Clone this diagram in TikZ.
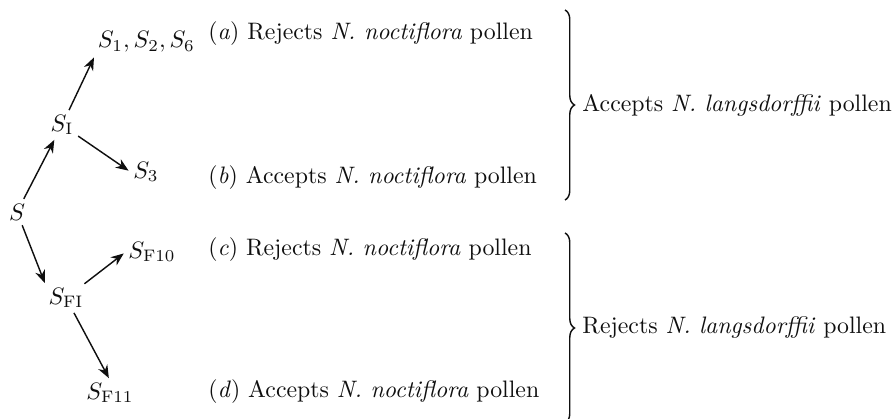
\documentclass[tikz,border=0pt]{standalone}
\usepackage{tikz}
\usetikzlibrary{arrows.meta,positioning,decorations.pathreplacing}
\definecolor{ink}{RGB}{15,15,15}
\tikzset{
  >={Stealth[length=1.9mm,width=1.5mm]},
  state/.style={inner sep=1pt,text=ink},
  link/.style={->,semithick,draw=ink,shorten <=1pt,shorten >=1pt},
  lbl/.style={anchor=west,inner sep=0pt,text=ink},
  pbrace/.style={decorate,decoration={brace,amplitude=4pt,aspect=#1},semithick,draw=ink},
  pbrace/.default=0.5,
}

\begin{document}
\begin{tikzpicture}[x=0.42pt,y=-0.42pt]
  \useasboundingbox (0,0) rectangle (896,419);
  % states
  \node[state] (s) at (17,212) {$S$};
  \node[state] (si) at (62,125) {$S_{\mathrm{I}}$};
  \node[state,anchor=west] (s126) at (95,42) {$S_1, S_2, S_6$};
  \node[state] (s3) at (146,172) {$S_3$};
  \node[state] (sf1) at (66,298) {$S_{\mathrm{FI}}$};
  \node[state] (sf10) at (152,252) {$S_{\mathrm{F10}}$};
  \node[state] (sf11) at (110,393) {$S_{\mathrm{F11}}$};
  \draw[link] (s) -- (si);
  \draw[link] (si) -- (s126.south west);
  \draw[link] (si) -- (s3.west);
  \draw[link] (s) -- (sf1.north west);
  \draw[link] (sf1) -- (sf10.west);
  \draw[link] (sf1) -- (sf11.north);
  % responses
  \node[lbl] (ra) at (208,34) {(\textit{a}) Rejects \textit{N. noctiflora} pollen};
  \node[lbl] (rb) at (208,178) {(\textit{b}) Accepts \textit{N. noctiflora} pollen};
  \node[lbl] (rc) at (208,250) {(\textit{c}) Rejects \textit{N. noctiflora} pollen};
  \node[lbl] (rd) at (208,392) {(\textit{d}) Accepts \textit{N. noctiflora} pollen};
  % braces
  \coordinate (b1t) at (565,10);
  \coordinate (b1b) at (565,200);
  \coordinate (b2t) at (565,233);
  \coordinate (b2b) at (565,423);
  \draw[pbrace] (b1t) -- (b1b);
  \draw[pbrace] (b2t) -- (b2b);
  \node[lbl] (acc) at (582,105) {Accepts \textit{N. langsdorffii} pollen};
  \node[lbl] (rej) at (582,328) {Rejects \textit{N. langsdorffii} pollen};
\end{tikzpicture}
\end{document}
